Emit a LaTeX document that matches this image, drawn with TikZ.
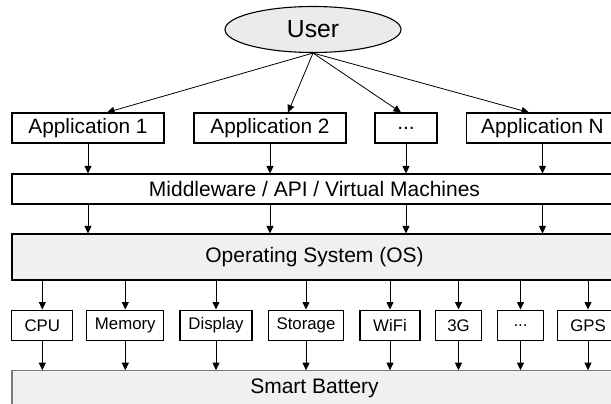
\documentclass[tikz,border=0pt]{standalone}
\usepackage{fontspec}
\setmainfont{Liberation Sans}
\usetikzlibrary{shapes.geometric,arrows.meta}
\definecolor{panel}{HTML}{F0F0F0}
\definecolor{oval}{HTML}{EBEBEB}
\definecolor{rim}{HTML}{7A7A7A}
\begin{document}
\begin{tikzpicture}[x=1pt,y=-1pt,
  box/.style={draw,line width=1.1pt,rectangle,inner sep=0pt,anchor=center},
  appbox/.style={box,minimum height=30pt,font=\fontsize{20.8}{22}\selectfont},
  layer/.style={box,minimum width=605pt,font=\fontsize{21}{23}\selectfont},
  devbox/.style={box,minimum height=30.5pt,font=\fontsize{16.8}{18}\selectfont},
  arr/.style={line width=0.8pt,-{Triangle[length=7.5pt,width=7pt]}}]
\useasboundingbox (0,0) rectangle (611,404);
\clip (0,0) rectangle (611,404);
\fill[white] (0,0) rectangle (611,404);

% top: the user
\node[ellipse,draw,line width=1.1pt,fill=oval,inner sep=0pt,
      minimum width=176pt,minimum height=46pt,
      font=\fontsize{24.7}{26}\selectfont] (user) at (313,29.5) {User};

% applications
\node[appbox,minimum width=152pt] (app1) at (88,128) {Application 1};
\node[appbox,minimum width=152pt] (app2) at (270,128) {Application 2};
\node[appbox,minimum width=62pt]  (appd) at (406,128) {...};
\node[appbox,minimum width=152pt] (appn) at (542.5,128) {Application N};

% software layers
\node[layer,minimum height=30pt] (mw) at (314.5,189) {Middleware / API / Virtual Machines};
\node[layer,minimum height=46pt,fill=panel] (os) at (314.5,257) {Operating System (OS)};

% hardware components
\node[devbox,minimum width=61pt] (cpu)  at (42.3,325.3)  {CPU};
\node[devbox,minimum width=77pt] (mem)  at (125.3,325.3) {Memory};
\node[devbox,minimum width=72pt] (disp) at (216,325.3)   {Display};
\node[devbox,minimum width=75pt] (stor) at (306,325.3)   {Storage};
\node[devbox,minimum width=60pt] (wifi) at (390,325.3)   {WiFi};
\node[devbox,minimum width=46pt] (g3)   at (458.5,325.3) {3G};
\node[devbox,minimum width=46pt] (devd) at (520.5,325.3) {...};
\node[devbox,minimum width=61pt] (gps)  at (588,325.3)   {GPS};

% battery
\node[layer,minimum height=34.5pt,fill=panel,draw=rim] (bat) at (314.5,388) {Smart Battery};

% user to applications
\draw[arr] (user.south) -- ([xshift=19pt]app1.north);
\draw[arr] (user.south) -- ([xshift=18pt]app2.north);
\draw[arr] (user.south) -- ([xshift=-5pt]appd.north);
\draw[arr] (user.south) -- ([xshift=-13.5pt]appn.north);

% applications to middleware to OS
\foreach \a in {app1,app2,appd,appn}{
  \draw[arr] (\a.south) -- (\a.south |- mw.north);
  \draw[arr] (\a.south |- mw.south) -- (\a.south |- os.north);
}

% OS to components to battery
\foreach \d in {cpu,mem,disp,stor,wifi,g3,devd,gps}{
  \draw[arr] (os.south -| \d.north) -- (\d.north);
  \draw[arr] (\d.south) -- (\d.south |- bat.north);
}
\end{tikzpicture}
\end{document}
